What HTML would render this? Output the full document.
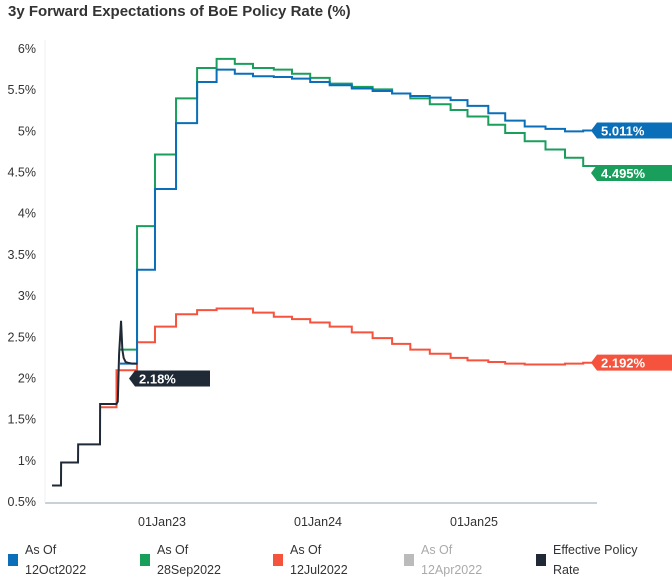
<!DOCTYPE html>
<html><head><meta charset="utf-8"><style>
body{margin:0;background:#fff;font-family:"Liberation Sans",sans-serif;}
#wrap{position:relative;width:672px;height:577px;overflow:hidden;}
.title{position:absolute;left:8px;top:3px;font-size:15px;font-weight:bold;color:#333;}
.leg{position:absolute;top:540px;font-size:12.5px;color:#333;line-height:20px;}
.leg .sq{position:absolute;left:0;top:14px;width:10px;height:12px;}
.leg .t{position:absolute;left:17px;top:0;white-space:nowrap;}
</style></head><body>
<div id="wrap">
<div class="title">3y Forward Expectations of BoE Policy Rate (%)</div>
<svg id="chart" width="672" height="577" style="position:absolute;left:0;top:0"></svg>
<div class="leg" style="left:8px"><div class="sq" style="background:#0a6fb8"></div><div class="t">As Of<br>12Oct2022</div></div>
<div class="leg" style="left:140px"><div class="sq" style="background:#1a9e5c"></div><div class="t">As Of<br>28Sep2022</div></div>
<div class="leg" style="left:273px"><div class="sq" style="background:#f5533d"></div><div class="t">As Of<br>12Jul2022</div></div>
<div class="leg" style="left:404px;color:#aaa"><div class="sq" style="background:#bbb"></div><div class="t">As Of<br>12Apr2022</div></div>
<div class="leg" style="left:536px"><div class="sq" style="background:#1f2a36"></div><div class="t">Effective Policy<br>Rate</div></div>
</div>
<script>
// months since 01Jan2022
const blueDates=[8.77,10.08,11.46,13.08,14.7,16.2,17.6,19.0,20.6,22.0,23.4,24.9,26.6,28.2,29.7,31.1,32.6,34.2,35.5,37.1,38.4,39.9,41.5,43.0,44.4,45.5];
const blueVals=[2.18,3.32,4.3,5.1,5.6,5.75,5.7,5.67,5.66,5.64,5.6,5.56,5.52,5.49,5.46,5.43,5.41,5.38,5.31,5.22,5.13,5.06,5.03,5.0,5.011,5.011];
const greenDates=[8.77,10.08,11.46,13.08,14.7,16.2,17.6,19.0,20.6,22.0,23.4,24.9,26.6,28.2,29.7,31.1,32.6,34.2,35.5,37.1,38.4,39.9,41.5,43.0,44.4,45.5];
const greenVals=[2.35,3.85,4.72,5.4,5.77,5.88,5.82,5.77,5.75,5.7,5.65,5.58,5.54,5.51,5.46,5.4,5.33,5.26,5.18,5.08,4.98,4.88,4.78,4.68,4.58,4.495];
const redDates=[7.23,8.5,10.08,11.46,13.08,14.7,16.2,17.6,19.0,20.6,22.0,23.4,24.9,26.6,28.2,29.7,31.1,32.6,34.2,35.5,37.1,38.4,39.9,41.5,43.0,44.4,45.5];
const redVals=[1.65,2.1,2.44,2.63,2.78,2.83,2.85,2.85,2.8,2.75,2.72,2.68,2.63,2.56,2.49,2.42,2.35,2.3,2.25,2.22,2.2,2.18,2.17,2.17,2.18,2.19,2.192];
const effDates=[3.54,4.23,4.24,5.54,5.55,7.23,7.24,8.5,8.6,8.7,8.85,8.95,9.05,9.2,9.4,9.7,10.08];
const effVals=[0.7,0.7,0.98,0.98,1.2,1.2,1.69,1.69,1.72,2.3,2.7,2.35,2.25,2.2,2.19,2.18,2.18];
const yTicks=[0.5,1,1.5,2,2.5,3,3.5,4,4.5,5,5.5,6];
const xTickMonths=[12,24,36];
const xTickLabels=["01Jan23","01Jan24","01Jan25"];

const NS="http://www.w3.org/2000/svg";
const svg=document.getElementById('chart');
const x=m=>162+(m-12)*13;
const y=v=>502-(v-0.5)*82.36;
function mk(tag,attrs){const e=document.createElementNS(NS,tag);for(const k in attrs)e.setAttribute(k,attrs[k]);svg.appendChild(e);return e;}
let ax=mk('line',{x1:45,x2:597,y1:503,y2:503,stroke:'#c8d0d8','stroke-width':2});


let ay=mk('line',{x1:45,x2:45,y1:40,y2:503,stroke:'#eef1f4','stroke-width':1});


yTicks.forEach(v=>{
  const t=mk('text',{x:36,y:y(v)+4,'text-anchor':'end','font-size':12.5,fill:'#333','font-family':'Liberation Sans, sans-serif'});
  t.textContent=v+'%';
  
  
});
xTickMonths.forEach((m,i)=>{
  const t=mk('text',{x:x(m),y:526,'text-anchor':'middle','font-size':12.5,fill:'#333','font-family':'Liberation Sans, sans-serif'});
  t.textContent=xTickLabels[i];
  
  
});
function stepPath(d,v){let s='M'+x(d[0])+','+y(v[0]);for(let i=1;i<d.length;i++){s+=' H'+x(d[i])+' V'+y(v[i]);}return s;}
function linePath(d,v){return d.map((m,i)=>(i?'L':'M')+x(m)+','+y(v[i])).join(' ');}
function series(d,v,col,name,step){
  const p=mk('path',{d:step?stepPath(d,v):linePath(d,v),fill:'none',stroke:col,'stroke-width':2});
  
  
}
series(redDates,redVals,'#f5533d','series-12jul2022',true);
series(greenDates,greenVals,'#1a9e5c','series-28sep2022',true);
series(blueDates,blueVals,'#0a6fb8','series-12oct2022',true);
series(effDates,effVals,'#1f2a36','series-effective-rate',false);
function tag(v,col,txt,name,x0,w){
  const yy=y(v);
  const g=mk('path',{d:`M${x0-6},${yy} L${x0},${yy-8} L${x0+w},${yy-8} L${x0+w},${yy+8} L${x0},${yy+8} Z`,fill:col});
  
  
  const t=mk('text',{x:x0+4,y:yy+5,'font-size':13,'font-weight':'bold',fill:'#fff','font-family':'Liberation Sans, sans-serif'});
  t.textContent=txt;
  
  
}
tag(blueVals[blueVals.length-1],'#0a6fb8','5.011%','end-label-12oct2022',597,75);
tag(greenVals[greenVals.length-1],'#1a9e5c','4.495%','end-label-28sep2022',597,75);
tag(redVals[redVals.length-1],'#f5533d','2.192%','end-label-12jul2022',597,75);
tag(2.0,'#1f2a36','2.18%','end-label-effective-rate',135,75);
</script>
</body></html>
